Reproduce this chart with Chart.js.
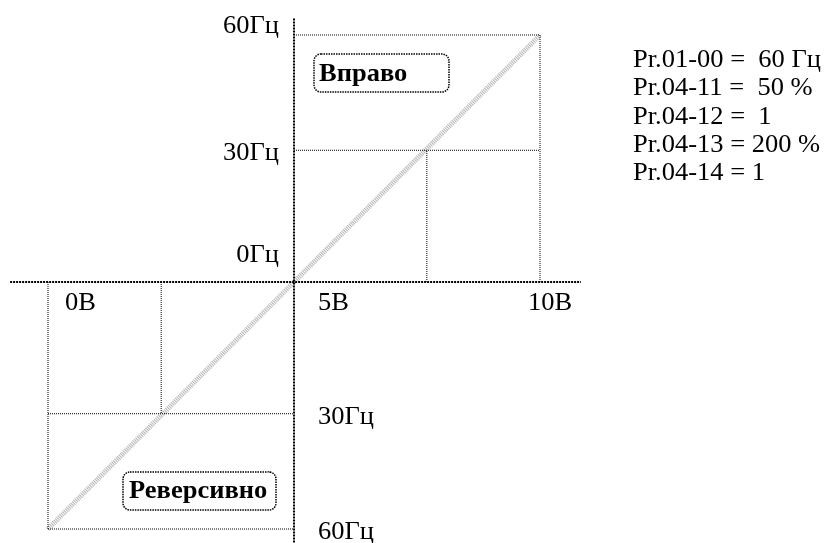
<!DOCTYPE html>
<html>
<head>
<meta charset="utf-8">
<style>
  body { margin: 0; background: #fff; }
  canvas { display: block; }
  .pre { position: absolute; left: -1000px; top: 0; font-family: "Liberation Serif"; font-size: 25px; }
</style>
<script src="https://cdn.jsdelivr.net/npm/chart.js@4/dist/chart.umd.min.js"></script>
</head>
<body>
<span class="pre">Вправо 60Гц</span><span class="pre" style="font-weight:bold">Реверсивно</span>
<canvas id="chart" width="827" height="543"></canvas>
<script>
    // voltage (В) along x, frequency (Гц) along y, 5В is the crossing point
    const voltTicks = [0, 5, 10];
    const voltLabels = ['0В', '5В', '10В'];
    const freqUpTicks = [60, 32, 0];
    const freqUpLabels = ['60Гц', '30Гц', '0Гц'];
    const freqDownTicks = [-32, -60];
    const freqDownLabels = ['30Гц', '60Гц'];

    // characteristic line: 0В -> -60Гц (reverse), 10В -> +60Гц (forward)
    const curveVolts = [0, 10];
    const curveFreqs = [-60, 60];

    // dotted guide lines [v1, v2, f] and [v, f1, f2]
    const guideH = [[5, 10, 60], [5, 10, 32], [0, 5, -32], [0, 5, -60]];
    const guideV = [[10, 0, 60], [7.7, 0, 32], [0, 0, -60], [2.3, 0, -32]];

    // axis extents
    const axisVolts = [-0.77, 10.83];
    const axisFreqs = [64, -64];

    const paramNames = ['Pr.01-00', 'Pr.04-11', 'Pr.04-12', 'Pr.04-13', 'Pr.04-14'];
    const paramValues = ['=  60 Гц', '=  50 %', '=  1', '= 200 %', '= 1'];

    const boxLabels = ['Вправо', 'Реверсивно'];

    const datasets = [];
    guideH.forEach(g => datasets.push({
        data: [{ x: g[0], y: g[2] }, { x: g[1], y: g[2] }],
        borderColor: '#000', borderWidth: 1, borderDash: [1, 1]
    }));
    guideV.forEach(g => datasets.push({
        data: [{ x: g[0], y: g[1] }, { x: g[0], y: g[2] }],
        borderColor: '#000', borderWidth: 1, borderDash: [1, 1]
    }));
    datasets.push({
        data: [{ x: axisVolts[0], y: 0 }, { x: axisVolts[1], y: 0 }],
        borderColor: '#000', borderWidth: 2, borderDash: [2, 1]
    });
    datasets.push({
        data: [{ x: 5, y: axisFreqs[0] }, { x: 5, y: axisFreqs[1] }],
        borderColor: '#000', borderWidth: 2, borderDash: [2, 1]
    });
    datasets.push({
        data: curveVolts.map((v, i) => ({ x: v, y: curveFreqs[i] })),
        borderColor: '#b4b4b4', borderWidth: 5, borderDash: [1, 1]
    });

    const SX = 1.06;
    const FONT = '"Liberation Serif", "Times New Roman", Times, serif';
    function txt(ctx, s, x, y, align, bold) {
        ctx.save();
        ctx.font = (bold ? 'bold ' : '') + '25px ' + FONT;
        ctx.fillStyle = '#000';
        ctx.textAlign = align;
        ctx.textBaseline = 'alphabetic';
        ctx.translate(x, y);
        ctx.scale(SX, 1);
        ctx.fillText(s, 0, 0);
        ctx.restore();
    }

    function box(ctx, x, y, w, h) {
        ctx.save();
        ctx.strokeStyle = '#000';
        ctx.lineWidth = 1.5;
        ctx.setLineDash([1.5, 1]);
        ctx.beginPath();
        ctx.roundRect(x, y, w, h, 7);
        ctx.stroke();
        ctx.restore();
    }

    const labelsPlugin = {
        id: 'labels',
        afterDatasetsDraw(chart) {
            const ctx = chart.ctx;
            const xs = chart.scales.x, ys = chart.scales.y;
            const ox = xs.getPixelForValue(5), oy = ys.getPixelForValue(0);

            const upDy = [-2, 10, -20];
            freqUpTicks.forEach((f, i) => {
                txt(ctx, freqUpLabels[i], ox - 15, ys.getPixelForValue(f) + upDy[i], 'right');
            });
            freqDownTicks.forEach((f, i) => {
                txt(ctx, freqDownLabels[i], ox + 24, ys.getPixelForValue(f) + 10, 'left');
            });
            const voltDx = [17, 24, -12];
            voltTicks.forEach((v, i) => {
                txt(ctx, voltLabels[i], xs.getPixelForValue(v) + voltDx[i], oy + 28, 'left');
            });

            // quadrant tags
            box(ctx, ox + 20, ys.getPixelForValue(60) + 19, 135, 38);
            txt(ctx, boxLabels[0], ox + 25, ys.getPixelForValue(60) + 46, 'left', true);
            box(ctx, xs.getPixelForValue(0) + 75, ys.getPixelForValue(-60) - 57, 153, 38);
            txt(ctx, boxLabels[1], xs.getPixelForValue(0) + 81, ys.getPixelForValue(-60) - 31, 'left', true);

            paramNames.forEach((n, i) => {
                txt(ctx, n + ' ' + paramValues[i], 633, 67 + i * 28.3, 'left');
            });
        }
    };

    function draw() {
        new Chart(document.getElementById('chart'), {
            type: 'scatter',
            data: { datasets: datasets.map(d => Object.assign(d, { showLine: true, pointRadius: 0, fill: false })) },
            options: {
                responsive: false,
                animation: false,
                devicePixelRatio: 1,
                layout: { padding: 0 },
                plugins: { legend: { display: false }, tooltip: { enabled: false } },
                scales: {
                    x: { type: 'linear', display: false, min: -0.9756, max: 15.833 },
                    y: { type: 'linear', display: false, min: -63.4, max: 68.5 }
                }
            },
            plugins: [labelsPlugin]
        });
    }

    Promise.all([
        document.fonts.load('25px "Liberation Serif"', 'Вправо'),
        document.fonts.load('bold 25px "Liberation Serif"', 'Реверсивно')
    ]).then(draw, draw);
</script>
</body>
</html>
